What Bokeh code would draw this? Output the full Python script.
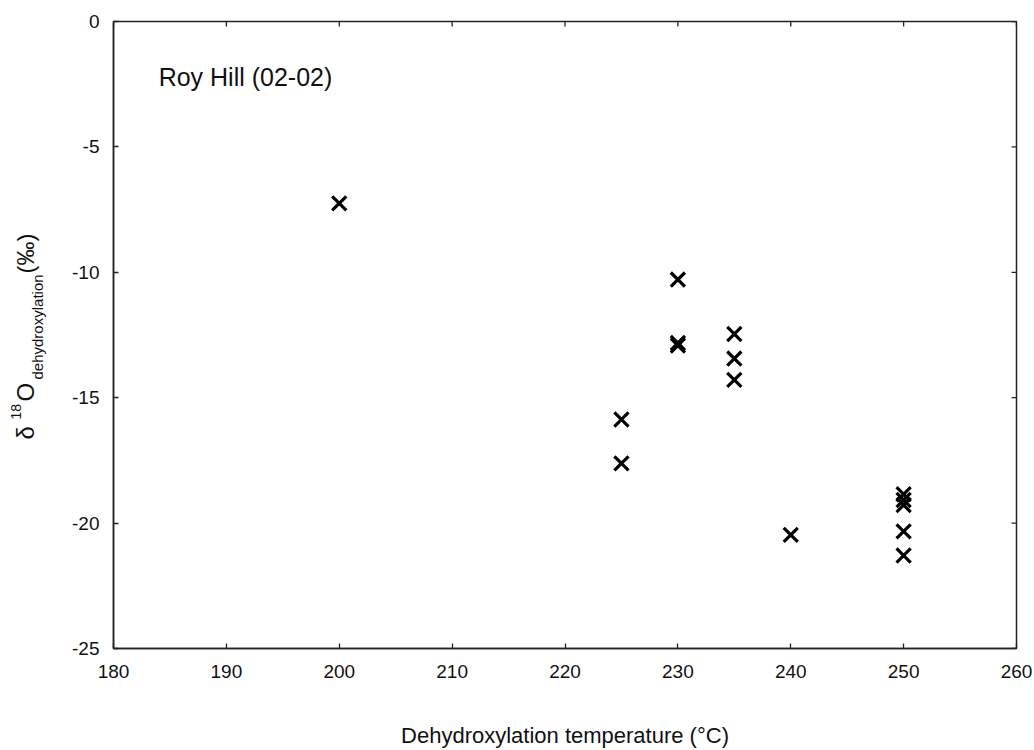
from bokeh.plotting import figure
from bokeh.layouts import row
from bokeh.models import Range1d, FixedTicker, Label, PrintfTickFormatter
from bokeh.embed import file_html
from bokeh.resources import INLINE
import math

# Data
temperature = [200, 225, 225, 230, 230, 230, 235, 235, 235, 240, 250, 250, 250, 250, 250]
d18O = [-7.25, -15.87, -17.62, -10.29, -12.82, -12.92, -12.46, -13.44, -14.29, -20.47,
        -18.85, -19.08, -19.28, -20.33, -21.29]
x_ticks = [180, 190, 200, 210, 220, 230, 240, 250, 260]
y_ticks = [-25, -20, -15, -10, -5, 0]
sample_name = "Roy Hill (02-02)"
x_title = "Dehydroxylation temperature (°C)"

FONT = "Liberation Sans"
LINE = "#222222"
TXT = "#111111"
H = 750
LW = 60          # width of the strip holding the y-axis title
F_TOP, F_BOT = 21, 648   # frame edges (px from top of page)

p = figure(width=1034 - LW, height=H, output_backend="svg", toolbar_location=None,
           x_range=Range1d(x_ticks[0], x_ticks[-1]), y_range=Range1d(y_ticks[0], y_ticks[-1]),
           min_border_left=113 - LW, min_border_right=18, min_border_top=F_TOP,
           min_border_bottom=H - F_BOT)
p.xgrid.visible = False
p.ygrid.visible = False
p.outline_line_color = LINE
p.outline_line_width = 1.5

for ax in (p.xaxis[0], p.yaxis[0]):
    ax.axis_line_color = LINE
    ax.axis_line_width = 1.5
    ax.major_tick_in = 5
    ax.major_tick_out = 0
    ax.major_tick_line_color = LINE
    ax.major_tick_line_width = 1.3
    ax.minor_tick_line_color = None
    ax.major_label_text_font = FONT
    ax.major_label_text_color = TXT
    ax.major_label_text_font_size = "19px"
    ax.formatter = PrintfTickFormatter(format="%d")

p.xaxis.ticker = FixedTicker(ticks=x_ticks)
p.yaxis.ticker = FixedTicker(ticks=y_ticks)
p.xaxis.major_label_standoff = 16
p.yaxis.major_label_standoff = 14
p.xaxis.axis_label = x_title
p.xaxis.axis_label_text_font = FONT
p.xaxis.axis_label_text_font_size = "22px"
p.xaxis.axis_label_text_font_style = "normal"
p.xaxis.axis_label_text_color = TXT
p.xaxis.axis_label_standoff = 42

# inward ticks on the top and right edges of the frame
p.scatter(x_ticks, [y_ticks[-1]] * len(x_ticks), marker="dash", angle=math.pi / 2,
          size=10, line_color=LINE, line_width=1.3)
p.scatter([x_ticks[-1]] * len(y_ticks), y_ticks, marker="dash",
          size=10, line_color=LINE, line_width=1.3)

p.scatter(temperature, d18O, marker="x", size=20, line_width=3.2, line_color="black")

p.add_layout(Label(x=184.0, y=-2.2, text=sample_name, text_font=FONT,
                   text_font_size="25px", text_color=TXT,
                   text_baseline="alphabetic", text_align="left"))

# y-axis title strip; its frame spans the same rows as the main frame,
# and its y data unit is minus the pixel row of the page
lab = figure(width=LW, height=H, output_backend="svg", toolbar_location=None,
             x_axis_type=None, y_axis_type=None,
             x_range=Range1d(0, LW), y_range=Range1d(-F_BOT, -F_TOP),
             min_border_left=0, min_border_right=0, min_border_top=F_TOP,
             min_border_bottom=H - F_BOT)
lab.grid.visible = False
lab.outline_line_color = None

pieces = [
    ("δ", 25, 439, "24px"),
    ("18", 15, 419, "14px"),
    ("O", 25, 401, "24px"),
    ("dehydroxylation", 37, 379, "15px"),
    ("(‰)", 25, 273, "24px"),
]
for txt, xs, ys, fs in pieces:
    lab.add_layout(Label(x=xs, y=-ys, text=txt, angle=math.pi / 2,
                         text_font=FONT, text_font_size=fs, text_color=TXT,
                         text_align="left", text_baseline="alphabetic"))

layout = row(lab, p, spacing=0)
open("out.html", "w").write(file_html(layout, INLINE))
